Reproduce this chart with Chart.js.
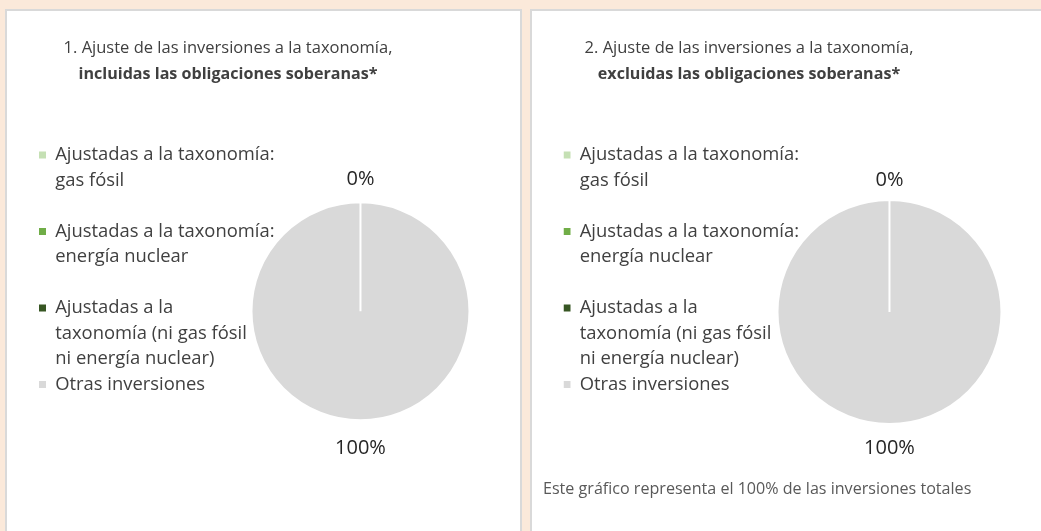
<!DOCTYPE html>
<html>
<head>
<meta charset="utf-8">
<script src="https://cdn.jsdelivr.net/npm/chart.js@4.4.1/dist/chart.umd.min.js"></script>
<style>
  body { margin: 0; width: 1041px; height: 531px; overflow: hidden; background: #fbe9da; font-family: "Open Sans", sans-serif; }
  .panel { position: absolute; top: 9px; height: 530px; background: #fff; border: 2px solid #d9d9d9; border-bottom: none; }
  #p1 { left: 5px; width: 513px; }
  #p2 { left: 530px; width: 520px; border-right: none; }
  .panel canvas { position: absolute; left: 0; top: 0; }
  .ttl { position: absolute; top: 23px; width: 400px; text-align: center; font-size: 16.5px; line-height: 26px; color: #404040; }
  .ttl b { font-weight: 700; font-size: 16.1px; }
  .note { position: absolute; left: 11px; top: 467px; font-size: 16.1px; line-height: 20px; color: #595959; white-space: nowrap; }
</style>
</head>
<body>
<div class="panel" id="p1">
  <canvas id="c1" width="513" height="520"></canvas>
  <div class="ttl" style="left:21px">1. Ajuste de las inversiones a la taxonomía,<br><b>incluidas las obligaciones soberanas*</b></div>
</div>
<div class="panel" id="p2">
  <canvas id="c2" width="508" height="520"></canvas>
  <div class="ttl" style="left:17px">2. Ajuste de las inversiones a la taxonomía,<br><b>excluidas las obligaciones soberanas*</b></div>
  <div class="note">Este gráfico representa el 100% de las inversiones totales</div>
</div>
<script>
// legend entries, one array of text lines each
const categories = [
  ["Ajustadas a la taxonomía:", "gas fósil"],
  ["Ajustadas a la taxonomía:", "energía nuclear"],
  ["Ajustadas a la", "taxonomía (ni gas fósil", "ni energía nuclear)"],
  ["Otras inversiones"]
];
const incluidas = [0, 0, 0, 100];
const excluidas = [0, 0, 0, 100];
const sliceColors = ["#c5e0b4", "#70ad47", "#375623", "#d9d9d9"];

// percent labels just outside the pie
const pctLabels = {
  id: "pctLabels",
  afterDatasetsDraw(chart, args, opts) {
    const ctx = chart.ctx;
    const meta = chart.getDatasetMeta(0);
    const vals = chart.data.datasets[0].data;
    const seen = {};
    ctx.save();
    ctx.font = "20px 'Open Sans'";
    ctx.fillStyle = "#262626";
    ctx.textAlign = "center";
    ctx.textBaseline = "middle";
    meta.data.forEach((arc, i) => {
      const p = arc.getProps(["x", "y", "startAngle", "endAngle", "outerRadius"], true);
      const mid = (p.startAngle + p.endAngle) / 2;
      const r = p.outerRadius + opts.offset;
      const x = p.x + Math.cos(mid) * r;
      const y = p.y + Math.sin(mid) * r + 2;
      const key = Math.round(x) + "," + Math.round(y);
      if (seen[key]) return;
      seen[key] = true;
      ctx.fillText(vals[i] + "%", x, y);
    });
    ctx.restore();
  }
};

function legendItems(chart) {
  const items = Chart.overrides.doughnut.plugins.legend.labels.generateLabels(chart);
  items.forEach((it, i) => {
    let lines = categories[i].slice();
    while (i < categories.length - 1 && lines.length < 3) lines.push("");
    it.text = lines;
    it.lineWidth = 0;
    it.strokeStyle = it.fillStyle;
  });
  return items;
}

function pie(id, values, radius, pad, offset) {
  new Chart(document.getElementById(id), {
    type: "pie",
    data: {
      labels: categories,
      datasets: [{
        data: values,
        backgroundColor: sliceColors,
        borderColor: "#ffffff",
        borderWidth: 2
      }]
    },
    options: {
      responsive: false,
      animation: false,
      radius: radius,
      layout: { padding: pad },
      plugins: {
        tooltip: { enabled: false },
        pctLabels: { offset: offset },
        legend: {
          position: "left",
          align: "start",
          maxWidth: 320,
          labels: {
            boxWidth: 7,
            boxHeight: 7,
            padding: 0,
            color: "#404040",
            font: { family: "'Open Sans'", size: 18.4, lineHeight: "25.5px" },
            generateLabels: legendItems
          }
        }
      }
    },
    plugins: [pctLabels]
  });
}

document.fonts.load("18px 'Open Sans'").then(() => {
  pie("c1", incluidas, 109, { left: 32, top: 134.8, right: 83.5, bottom: 54.2 }, 25.5);
  pie("c2", excluidas, 112, { left: 31.5, top: 134.8, right: 70, bottom: 52.8 }, 22);
});
</script>
</body>
</html>
